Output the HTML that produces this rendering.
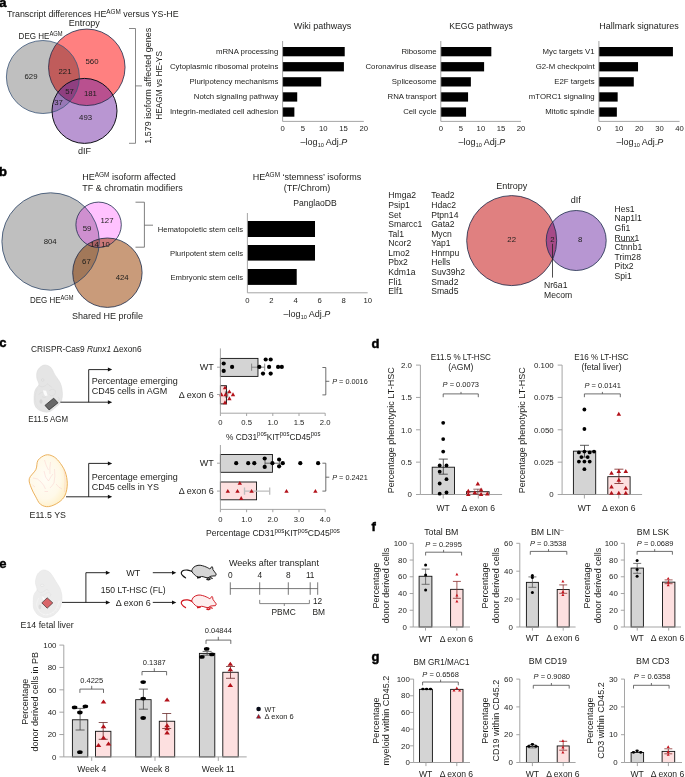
<!DOCTYPE html>
<html><head><meta charset="utf-8"><title>Figure</title>
<style>
html,body{margin:0;padding:0;background:#fff;}
svg{display:block;font-family:"Liberation Sans",sans-serif;fill:#1d1d1b;will-change:transform;}
</style></head><body>
<svg width="685" height="777" viewBox="0 0 685 777">
<rect width="685" height="777" fill="#fff"/>
<text x="-0.70" y="6.70" font-size="13" font-weight="bold" fill="#000" stroke="#000" stroke-width="0.45">a</text>
<text x="7.00" y="17.00" font-size="8.85">Transcript differences HE<tspan dy="-3.01" font-size="6.37">AGM</tspan><tspan dy="3.01" font-size="8.85">&#8203;</tspan> versus YS-HE</text>
<text x="84.20" y="26.20" font-size="9" text-anchor="middle">Entropy</text>
<text x="18.60" y="38.70" font-size="9" textLength="44" lengthAdjust="spacingAndGlyphs">DEG HE<tspan dy="-3.06" font-size="6.48">AGM</tspan><tspan dy="3.06" font-size="9">&#8203;</tspan></text>
<text x="84.40" y="154.40" font-size="9" text-anchor="middle">dIF</text>
<defs><clipPath id="aG"><circle cx="42.9" cy="77" r="36.5"/></clipPath><clipPath id="aR"><circle cx="86.8" cy="67.3" r="38.25"/></clipPath><clipPath id="aP"><circle cx="84.5" cy="110.9" r="32.5"/></clipPath></defs>
<circle cx="42.90" cy="77.00" r="36.50" fill="#bfbfbf"/>
<circle cx="86.80" cy="67.30" r="38.25" fill="#ff8080"/>
<circle cx="84.50" cy="110.90" r="32.50" fill="#b996d2"/>
<g clip-path="url(#aG)"><circle cx="86.8" cy="67.3" r="38.25" fill="#c05c5b"/></g>
<g clip-path="url(#aG)"><circle cx="84.5" cy="110.9" r="32.5" fill="#9878b6"/></g>
<g clip-path="url(#aR)"><circle cx="84.5" cy="110.9" r="32.5" fill="#b9508f"/></g>
<g clip-path="url(#aG)"><g clip-path="url(#aR)"><circle cx="84.5" cy="110.9" r="32.5" fill="#8f3f80"/></g></g>
<circle cx="42.90" cy="77.00" r="36.50" fill="none" stroke="#3b5578" stroke-width="0.8"/>
<circle cx="86.80" cy="67.30" r="38.25" fill="none" stroke="#1c2b4a" stroke-width="0.8"/>
<circle cx="84.50" cy="110.90" r="32.50" fill="none" stroke="#101018" stroke-width="1.0"/>
<text x="31.00" y="78.80" font-size="7.8" text-anchor="middle">629</text>
<text x="65.00" y="73.80" font-size="7.8" text-anchor="middle">221</text>
<text x="92.00" y="63.80" font-size="7.8" text-anchor="middle">560</text>
<text x="69.60" y="94.40" font-size="7.8" text-anchor="middle">57</text>
<text x="90.40" y="96.20" font-size="7.8" text-anchor="middle">181</text>
<text x="58.60" y="105.40" font-size="7.8" text-anchor="middle">37</text>
<text x="85.60" y="120.20" font-size="7.8" text-anchor="middle">493</text>
<path d="M129,28.5 H135.5 V143.3 H129 M135.5,85.9 H142" stroke="#6a6a6a" stroke-width="0.8" fill="none"/>
<text x="151.10" y="85.70" font-size="9" text-anchor="middle" transform="rotate(-90 151.10 85.70)">1,579 isoform affected genes</text>
<text x="161.60" y="85.40" font-size="8.3" text-anchor="middle" transform="rotate(-90 161.60 85.40)">HEAGM vs HE-YS</text>
<text x="322.50" y="29.00" font-size="9" text-anchor="middle">Wiki pathways</text>
<rect x="282.60" y="47.00" width="62.12" height="9.30" fill="#000"/>
<text x="278.30" y="53.95" font-size="7.8" text-anchor="end">mRNA processing</text>
<rect x="282.60" y="62.10" width="61.31" height="9.30" fill="#000"/>
<text x="278.30" y="69.05" font-size="7.8" text-anchor="end">Cytoplasmic ribosomal proteins</text>
<rect x="282.60" y="77.20" width="38.57" height="9.30" fill="#000"/>
<text x="278.30" y="84.15" font-size="7.8" text-anchor="end">Pluripotency mechanisms</text>
<rect x="282.60" y="92.30" width="14.62" height="9.30" fill="#000"/>
<text x="278.30" y="99.25" font-size="7.8" text-anchor="end">Notch signaling pathway</text>
<rect x="282.60" y="107.40" width="11.77" height="9.30" fill="#000"/>
<text x="278.30" y="114.35" font-size="7.8" text-anchor="end">Integrin-mediated cell adhesion</text>
<text x="282.60" y="131.40" font-size="7.7" text-anchor="middle">0</text>
<text x="302.90" y="131.40" font-size="7.7" text-anchor="middle">5</text>
<text x="323.20" y="131.40" font-size="7.7" text-anchor="middle">10</text>
<text x="343.50" y="131.40" font-size="7.7" text-anchor="middle">15</text>
<text x="363.80" y="131.40" font-size="7.7" text-anchor="middle">20</text>
<path d="M282.60,41 V121.4 H363.80" stroke="#9b9b9b" stroke-width="0.9" fill="none"/>
<text x="324.00" y="145.00" font-size="9" text-anchor="middle">–log<tspan dy="1.98" font-size="5.58">10</tspan><tspan dy="-1.98" font-size="9">&#8203;</tspan> Adj.<tspan font-style="italic">P</tspan></text>
<text x="481.00" y="29.00" font-size="8.6" text-anchor="middle">KEGG pathways</text>
<rect x="440.80" y="47.00" width="50.53" height="9.30" fill="#000"/>
<text x="436.50" y="53.95" font-size="7.8" text-anchor="end">Ribosome</text>
<rect x="440.80" y="62.10" width="43.31" height="9.30" fill="#000"/>
<text x="436.50" y="69.05" font-size="7.8" text-anchor="end">Coronavirus disease</text>
<rect x="440.80" y="77.20" width="30.07" height="9.30" fill="#000"/>
<text x="436.50" y="84.15" font-size="7.8" text-anchor="end">Spliceosome</text>
<rect x="440.80" y="92.30" width="27.27" height="9.30" fill="#000"/>
<text x="436.50" y="99.25" font-size="7.8" text-anchor="end">RNA transport</text>
<rect x="440.80" y="107.40" width="25.26" height="9.30" fill="#000"/>
<text x="436.50" y="114.35" font-size="7.8" text-anchor="end">Cell cycle</text>
<text x="440.80" y="131.40" font-size="7.7" text-anchor="middle">0</text>
<text x="460.85" y="131.40" font-size="7.7" text-anchor="middle">5</text>
<text x="480.90" y="131.40" font-size="7.7" text-anchor="middle">10</text>
<text x="500.95" y="131.40" font-size="7.7" text-anchor="middle">15</text>
<text x="521.00" y="131.40" font-size="7.7" text-anchor="middle">20</text>
<path d="M440.80,41 V121.4 H521.00" stroke="#9b9b9b" stroke-width="0.9" fill="none"/>
<text x="482.00" y="145.00" font-size="9" text-anchor="middle">–log<tspan dy="1.98" font-size="5.58">10</tspan><tspan dy="-1.98" font-size="9">&#8203;</tspan> Adj.<tspan font-style="italic">P</tspan></text>
<text x="639.00" y="29.00" font-size="9" text-anchor="middle">Hallmark signatures</text>
<rect x="598.90" y="47.00" width="74.02" height="9.30" fill="#000"/>
<text x="594.60" y="53.95" font-size="7.8" text-anchor="end">Myc targets V1</text>
<rect x="598.90" y="62.10" width="39.13" height="9.30" fill="#000"/>
<text x="594.60" y="69.05" font-size="7.8" text-anchor="end">G2-M checkpoint</text>
<rect x="598.90" y="77.20" width="34.89" height="9.30" fill="#000"/>
<text x="594.60" y="84.15" font-size="7.8" text-anchor="end">E2F targets</text>
<rect x="598.90" y="92.30" width="18.76" height="9.30" fill="#000"/>
<text x="594.60" y="99.25" font-size="7.8" text-anchor="end">mTORC1 signaling</text>
<rect x="598.90" y="107.40" width="17.95" height="9.30" fill="#000"/>
<text x="594.60" y="114.35" font-size="7.8" text-anchor="end">Mitotic spindle</text>
<text x="598.90" y="131.40" font-size="7.7" text-anchor="middle">0</text>
<text x="619.07" y="131.40" font-size="7.7" text-anchor="middle">10</text>
<text x="639.24" y="131.40" font-size="7.7" text-anchor="middle">20</text>
<text x="659.41" y="131.40" font-size="7.7" text-anchor="middle">30</text>
<text x="679.58" y="131.40" font-size="7.7" text-anchor="middle">40</text>
<path d="M598.90,41 V121.4 H679.58" stroke="#9b9b9b" stroke-width="0.9" fill="none"/>
<text x="640.00" y="145.00" font-size="9" text-anchor="middle">–log<tspan dy="1.98" font-size="5.58">10</tspan><tspan dy="-1.98" font-size="9">&#8203;</tspan> Adj.<tspan font-style="italic">P</tspan></text>
<text x="-0.90" y="175.80" font-size="13" font-weight="bold" fill="#000" stroke="#000" stroke-width="0.45">b</text>
<text x="82.20" y="180.00" font-size="9">HE<tspan dy="-3.06" font-size="6.48">AGM</tspan><tspan dy="3.06" font-size="9">&#8203;</tspan> isoform affected</text>
<text x="82.20" y="191.00" font-size="9">TF &amp; chromatin modifiers</text>
<defs><clipPath id="bG"><circle cx="50.6" cy="241.5" r="48.7"/></clipPath><clipPath id="bK"><circle cx="98.6" cy="224.8" r="22.7"/></clipPath><clipPath id="bB"><circle cx="107.4" cy="272.7" r="34.7"/></clipPath></defs>
<circle cx="50.60" cy="241.50" r="48.70" fill="#bfbfbf"/>
<circle cx="98.60" cy="224.80" r="22.70" fill="#ffc2ff"/>
<circle cx="107.40" cy="272.70" r="34.70" fill="#c99b7a"/>
<g clip-path="url(#bG)"><circle cx="98.6" cy="224.8" r="22.7" fill="#ce8fcf"/></g>
<g clip-path="url(#bG)"><circle cx="107.4" cy="272.7" r="34.7" fill="#a27859"/></g>
<g clip-path="url(#bK)"><circle cx="107.4" cy="272.7" r="34.7" fill="#c87878"/></g>
<g clip-path="url(#bG)"><g clip-path="url(#bK)"><circle cx="107.4" cy="272.7" r="34.7" fill="#a96065"/></g></g>
<circle cx="50.60" cy="241.50" r="48.70" fill="none" stroke="#2f4668" stroke-width="0.8"/>
<circle cx="98.60" cy="224.80" r="22.70" fill="none" stroke="#1c2b4a" stroke-width="0.8"/>
<circle cx="107.40" cy="272.70" r="34.70" fill="none" stroke="#1c2b4a" stroke-width="0.8"/>
<text x="50.20" y="243.80" font-size="7.8" text-anchor="middle">804</text>
<text x="87.10" y="231.40" font-size="7.8" text-anchor="middle">59</text>
<text x="107.00" y="223.20" font-size="7.8" text-anchor="middle">127</text>
<text x="94.60" y="247.20" font-size="7.8" text-anchor="middle">14</text>
<text x="105.60" y="247.20" font-size="7.8" text-anchor="middle">10</text>
<text x="86.40" y="264.30" font-size="7.8" text-anchor="middle">67</text>
<text x="122.20" y="279.50" font-size="7.8" text-anchor="middle">424</text>
<text x="30.00" y="303.00" font-size="9" textLength="43.6" lengthAdjust="spacingAndGlyphs">DEG HE<tspan dy="-3.06" font-size="6.48">AGM</tspan><tspan dy="3.06" font-size="9">&#8203;</tspan></text>
<text x="72.00" y="319.00" font-size="9">Shared HE profile</text>
<path d="M135.5,202.2 H144.4 V247.2 H135.5 M144.4,225.2 H153" stroke="#5f5f5f" stroke-width="0.8" fill="none"/>
<text x="307.00" y="180.00" font-size="9" text-anchor="middle">HE<tspan dy="-3.06" font-size="6.48">AGM</tspan><tspan dy="3.06" font-size="9">&#8203;</tspan> ‘stemness’ isoforms</text>
<text x="307.00" y="190.80" font-size="9" text-anchor="middle">(TF/Chrom)</text>
<text x="315.00" y="205.80" font-size="8.6" text-anchor="middle">PanglaoDB</text>
<rect x="247.40" y="221.00" width="67.61" height="16.00" fill="#000"/>
<text x="243.10" y="231.70" font-size="7.7" text-anchor="end">Hematopoietic stem cells</text>
<rect x="247.40" y="245.00" width="67.61" height="15.60" fill="#000"/>
<text x="243.10" y="255.50" font-size="7.7" text-anchor="end">Pluripotent stem cells</text>
<rect x="247.40" y="269.00" width="49.32" height="15.90" fill="#000"/>
<text x="243.10" y="279.65" font-size="7.7" text-anchor="end">Embryonic stem cells</text>
<text x="247.40" y="302.80" font-size="7.7" text-anchor="middle">0</text>
<text x="271.46" y="302.80" font-size="7.7" text-anchor="middle">2</text>
<text x="295.52" y="302.80" font-size="7.7" text-anchor="middle">4</text>
<text x="319.58" y="302.80" font-size="7.7" text-anchor="middle">6</text>
<text x="343.64" y="302.80" font-size="7.7" text-anchor="middle">8</text>
<text x="367.70" y="302.80" font-size="7.7" text-anchor="middle">10</text>
<path d="M247.4,213 V292.8 H367.70" stroke="#9b9b9b" stroke-width="0.9" fill="none"/>
<text x="307.00" y="316.60" font-size="9" text-anchor="middle">–log<tspan dy="1.98" font-size="5.58">10</tspan><tspan dy="-1.98" font-size="9">&#8203;</tspan> Adj.<tspan font-style="italic">P</tspan></text>
<text x="388.30" y="198.40" font-size="8.6">Hmga2</text>
<text x="431.20" y="198.40" font-size="8.6">Tead2</text>
<text x="388.30" y="207.98" font-size="8.6">Psip1</text>
<text x="431.20" y="207.98" font-size="8.6">Hdac2</text>
<text x="388.30" y="217.56" font-size="8.6">Set</text>
<text x="431.20" y="217.56" font-size="8.6">Ptpn14</text>
<text x="388.30" y="227.14" font-size="8.6">Smarcc1</text>
<text x="431.20" y="227.14" font-size="8.6">Gata2</text>
<text x="388.30" y="236.72" font-size="8.6">Tal1</text>
<text x="431.20" y="236.72" font-size="8.6">Mycn</text>
<text x="388.30" y="246.30" font-size="8.6">Ncor2</text>
<text x="431.20" y="246.30" font-size="8.6">Yap1</text>
<text x="388.30" y="255.88" font-size="8.6">Lmo2</text>
<text x="431.20" y="255.88" font-size="8.6">Hnrnpu</text>
<text x="388.30" y="265.46" font-size="8.6">Pbx2</text>
<text x="431.20" y="265.46" font-size="8.6">Hells</text>
<text x="388.30" y="275.04" font-size="8.6">Kdm1a</text>
<text x="431.20" y="275.04" font-size="8.6">Suv39h2</text>
<text x="388.30" y="284.62" font-size="8.6">Fli1</text>
<text x="431.20" y="284.62" font-size="8.6">Smad2</text>
<text x="388.30" y="294.20" font-size="8.6">Elf1</text>
<text x="431.20" y="294.20" font-size="8.6">Smad5</text>
<text x="614.50" y="211.90" font-size="8.6">Hes1</text>
<text x="614.50" y="221.46" font-size="8.6">Nap1l1</text>
<text x="614.50" y="231.02" font-size="8.6">Gfi1</text>
<text x="614.50" y="240.58" font-size="8.6">Runx1</text>
<text x="614.50" y="250.14" font-size="8.6">Ctnnb1</text>
<text x="614.50" y="259.70" font-size="8.6">Trim28</text>
<text x="614.50" y="269.26" font-size="8.6">Pitx2</text>
<text x="614.50" y="278.82" font-size="8.6">Spi1</text>
<defs><clipPath id="cE"><circle cx="511.7" cy="240.6" r="45"/></clipPath></defs>
<circle cx="511.70" cy="240.60" r="45.00" fill="#e08080"/>
<circle cx="576.20" cy="240.50" r="30.00" fill="#b796d2"/>
<g clip-path="url(#cE)"><circle cx="576.2" cy="240.5" r="30" fill="#a64a88"/></g>
<circle cx="511.70" cy="240.60" r="45.00" fill="none" stroke="#1c2b4a" stroke-width="0.8"/>
<circle cx="576.20" cy="240.50" r="30.00" fill="none" stroke="#1c2b4a" stroke-width="0.8"/>
<text x="511.70" y="188.80" font-size="9" text-anchor="middle">Entropy</text>
<text x="575.70" y="203.00" font-size="9" text-anchor="middle">dIf</text>
<text x="511.70" y="241.90" font-size="7.8" text-anchor="middle">22</text>
<text x="552.50" y="241.90" font-size="7.8" text-anchor="middle">2</text>
<text x="580.20" y="241.90" font-size="7.8" text-anchor="middle">8</text>
<line x1="552.50" y1="243.80" x2="552.50" y2="277.60" stroke="#222" stroke-width="0.8"/>
<line x1="615.00" y1="241.50" x2="635.60" y2="241.50" stroke="#222" stroke-width="0.6"/>
<text x="544.00" y="288.00" font-size="8.6">Nr6a1</text>
<text x="544.00" y="298.00" font-size="8.6">Mecom</text>
<text x="-0.70" y="347.30" font-size="13" font-weight="bold" fill="#000" stroke="#000" stroke-width="0.45">c</text>
<text x="31.00" y="352.00" font-size="9" textLength="110.6" lengthAdjust="spacingAndGlyphs">CRISPR-Cas9 <tspan font-style="italic">Runx1</tspan> Δexon6</text>
<path d="M44.50,365.00 C42.63,365.08 40.77,366.57 39.50,367.80 C38.23,369.03 37.33,370.62 36.90,372.40 C36.47,374.18 36.57,376.47 36.90,378.50 C37.23,380.53 39.05,382.93 38.90,384.60 C38.75,386.27 36.77,386.97 36.00,388.50 C35.23,390.03 34.58,391.38 34.30,393.80 C34.02,396.22 33.93,400.63 34.30,403.00 C34.67,405.37 35.48,406.72 36.50,408.00 C37.52,409.28 38.72,410.00 40.40,410.70 C42.08,411.40 44.83,412.15 46.60,412.20 C48.37,412.25 49.65,411.68 51.00,411.00 C52.35,410.32 53.05,409.60 54.70,408.10 C56.35,406.60 59.62,404.38 60.90,402.00 C62.18,399.62 62.40,396.70 62.40,393.80 C62.40,390.90 61.72,387.15 60.90,384.60 C60.08,382.05 58.53,380.20 57.50,378.50 C56.47,376.80 55.83,376.27 54.70,374.40 C53.57,372.53 52.40,368.87 50.70,367.30 C49.00,365.73 46.37,364.92 44.50,365.00 Z" stroke="#d9d9d9" stroke-width="0.5" fill="#e5e5e5"/>
<path d="M43,390.3 L46.1,390.8 L47.6,395.4 L45,395.9 L43.7,393.3 Z" stroke="none" stroke-width="0" fill="#fcfcfc"/>
<circle cx="42.70" cy="380.00" r="1.25" fill="#e9e9e9" stroke="#d0d0d0" stroke-width="0.45"/>
<path d="M38.70,385.45 C39.25,385.69 40.83,386.85 41.97,386.88 C43.11,386.92 44.64,386.12 45.55,385.66 C46.45,385.20 46.70,384.12 47.39,384.12 C48.07,384.12 48.83,385.09 49.63,385.66 C50.43,386.22 51.76,387.19 52.19,387.50" stroke="#d4d4d4" stroke-width="0.4" fill="none"/>
<path d="M49.12,390.77 C49.72,390.51 51.68,389.23 52.70,389.23 C53.72,389.23 54.91,389.91 55.25,390.77 C55.60,391.62 55.42,393.49 54.74,394.34 C54.06,395.19 52.10,395.87 51.17,395.87 C50.23,395.87 49.46,394.60 49.12,394.34" stroke="#d4d4d4" stroke-width="0.4" fill="none"/>
<path d="M38.90,394.85 C39.16,394.51 39.76,393.23 40.44,392.81 C41.12,392.38 42.57,392.38 42.99,392.30" stroke="#d4d4d4" stroke-width="0.4" fill="none"/>
<path d="M41.97,396.39 C42.31,396.56 43.33,397.36 44.01,397.41 C44.70,397.46 45.72,396.81 46.06,396.69" stroke="#d4d4d4" stroke-width="0.4" fill="none"/>
<path d="M57.81,396.90 C58.06,397.24 59.26,398.26 59.34,398.94 C59.43,399.62 58.49,400.64 58.32,400.98" stroke="#d4d4d4" stroke-width="0.4" fill="none"/>
<path d="M37.37,388.72 C37.03,389.91 35.50,393.32 35.33,395.87 C35.16,398.43 35.24,401.67 36.35,404.05 C37.46,406.43 39.76,409.07 41.97,410.18 C44.18,411.29 48.36,410.61 49.63,410.69" stroke="#dcdcdc" stroke-width="0.4" fill="none"/>
<ellipse cx="41.00" cy="401.50" rx="1.50" ry="2.30" fill="#d4d4d4"/>
<path d="M45,405.4 L53.7,398.2 L58,402.8 L49.1,409.9 Z" stroke="#2e2e2e" stroke-width="0.8" fill="#686868"/>
<text x="28.20" y="422.40" font-size="8.8" textLength="39.8" lengthAdjust="spacingAndGlyphs">E11.5 AGM</text>
<path d="M60.4,402.2 H108 M88.7,402.2 V369.6 H108" stroke="#111" stroke-width="0.9" fill="none"/>
<path d="M112.20,402.20 L107.90,400.18 L107.90,404.22 Z" fill="#111"/>
<path d="M112.20,369.60 L107.90,367.58 L107.90,371.62 Z" fill="#111"/>
<text x="91.70" y="384.20" font-size="9">Percentage emerging</text>
<text x="91.70" y="394.20" font-size="9">CD45 cells in AGM</text>
<defs><radialGradient id="ysg" cx="0.42" cy="0.45" r="0.62"><stop offset="0" stop-color="#fffdf6"/><stop offset="0.65" stop-color="#fff9e9"/><stop offset="1" stop-color="#ffefc4"/></radialGradient></defs>
<path d="M45.70,455.00 C43.23,455.68 39.63,457.88 38.00,460.30 C36.37,462.72 37.35,466.43 35.90,469.50 C34.45,472.57 30.07,475.63 29.30,478.70 C28.53,481.77 30.28,485.00 31.30,487.90 C32.32,490.80 33.87,493.37 35.40,496.10 C36.93,498.83 38.28,502.55 40.50,504.30 C42.72,506.05 45.63,506.95 48.70,506.60 C51.77,506.25 56.17,504.12 58.90,502.20 C61.63,500.28 63.70,498.17 65.10,495.10 C66.50,492.03 67.30,487.72 67.30,483.80 C67.30,479.88 66.50,475.33 65.10,471.60 C63.70,467.87 60.95,463.97 58.90,461.40 C56.85,458.83 55.00,457.27 52.80,456.20 C50.60,455.13 48.17,454.32 45.70,455.00 Z" stroke="#e9a94e" stroke-width="0.9" fill="url(#ysg)"/>
<path d="M44.5,460 Q46,466 48.5,470 M50.5,462 Q49.5,468 50,474 M44,471 Q45,478 48.5,481 Q51,476 53,474 M54.5,469 Q55.5,476 54,483 Q52,486 50,488 M33,478 Q38,478 41,482 Q44,485 45.5,489 M32.5,485 L35,487 M56,484 Q59,488 62,489 M44.5,491.5 L48,491.5 M64,470 Q66,480 64.5,492" stroke="#f8c4c4" stroke-width="0.4" fill="none"/>
<text x="47.70" y="517.90" font-size="8.8" text-anchor="middle">E11.5 YS</text>
<path d="M66,496.8 H108 M88.7,496.8 V463.4 H108" stroke="#111" stroke-width="0.9" fill="none"/>
<path d="M112.20,496.80 L107.90,494.78 L107.90,498.82 Z" fill="#111"/>
<path d="M112.20,463.40 L107.90,461.38 L107.90,465.42 Z" fill="#111"/>
<text x="91.70" y="479.70" font-size="9">Percentage emerging</text>
<text x="91.70" y="489.70" font-size="9">CD45 cells in YS</text>
<rect x="220.40" y="358.40" width="37.57" height="18.00" fill="#d4d4d4" stroke="#111" stroke-width="0.9"/>
<rect x="220.40" y="385.70" width="6.03" height="18.20" fill="#fde0e0" stroke="#111" stroke-width="0.9"/>
<path d="M251.60,367.20 H264.70 M251.60,363.60 V370.80 M264.70,363.60 V370.80" stroke="#7f7f7f" stroke-width="0.9" fill="none"/>
<path d="M225.40,394.50 H227.80 M225.40,391.30 V397.70 M227.80,391.30 V397.70" stroke="#7f7f7f" stroke-width="0.9" fill="none"/>
<circle cx="223.70" cy="363.50" r="2.10" fill="#000"/>
<circle cx="223.70" cy="370.90" r="2.10" fill="#000"/>
<circle cx="232.10" cy="366.90" r="2.10" fill="#000"/>
<circle cx="259.30" cy="366.90" r="2.10" fill="#000"/>
<circle cx="265.70" cy="359.50" r="2.10" fill="#000"/>
<circle cx="270.70" cy="359.50" r="2.10" fill="#000"/>
<circle cx="269.10" cy="366.90" r="2.10" fill="#000"/>
<circle cx="263.00" cy="373.60" r="2.10" fill="#000"/>
<circle cx="270.70" cy="373.60" r="2.10" fill="#000"/>
<circle cx="278.10" cy="366.90" r="2.10" fill="#000"/>
<circle cx="281.80" cy="366.90" r="2.10" fill="#000"/>
<path d="M222.80,389.33 L227.20,389.33 L225.00,385.48 Z" fill="#b3121a"/>
<path d="M219.20,396.13 L223.60,396.13 L221.40,392.28 Z" fill="#b3121a"/>
<path d="M223.40,396.13 L227.80,396.13 L225.60,392.28 Z" fill="#b3121a"/>
<path d="M227.20,393.33 L231.60,393.33 L229.40,389.48 Z" fill="#b3121a"/>
<path d="M227.20,400.13 L231.60,400.13 L229.40,396.28 Z" fill="#b3121a"/>
<path d="M230.80,396.13 L235.20,396.13 L233.00,392.28 Z" fill="#b3121a"/>
<path d="M222.80,404.13 L227.20,404.13 L225.00,400.28 Z" fill="#b3121a"/>
<text x="220.40" y="425.10" font-size="7.7" text-anchor="middle">0</text>
<text x="246.60" y="425.10" font-size="7.7" text-anchor="middle">0.5</text>
<text x="272.80" y="425.10" font-size="7.7" text-anchor="middle">1.0</text>
<text x="299.00" y="425.10" font-size="7.7" text-anchor="middle">1.5</text>
<text x="325.20" y="425.10" font-size="7.7" text-anchor="middle">2.0</text>
<path d="M220.4,348.4 V413.2 H325.20 M220.4,367.2 h-3.4 M220.4,394.5 h-3.4 M220.40,413.2 v2.8 M246.60,413.2 v2.8 M272.80,413.2 v2.8 M299.00,413.2 v2.8 M325.20,413.2 v2.8" stroke="#9b9b9b" stroke-width="0.9" fill="none"/>
<text x="213.70" y="370.00" font-size="9" text-anchor="end">WT</text>
<text x="213.70" y="397.50" font-size="9" text-anchor="end">Δ exon 6</text>
<text x="226.00" y="439.50" font-size="9" textLength="94.4" lengthAdjust="spacingAndGlyphs">% CD31<tspan dy="-3.06" font-size="6.48">pos</tspan><tspan dy="3.06" font-size="9">&#8203;</tspan>KIT<tspan dy="-3.06" font-size="6.48">pos</tspan><tspan dy="3.06" font-size="9">&#8203;</tspan>CD45<tspan dy="-3.06" font-size="6.48">pos</tspan><tspan dy="3.06" font-size="9">&#8203;</tspan></text>
<path d="M322.4,367.5 H325.8 V394.9 H322.4 M325.8,381.3 H329.3" stroke="#4a4a4a" stroke-width="0.8" fill="none"/>
<text x="332.20" y="384.00" font-size="7.3"><tspan font-style="italic">P</tspan> = 0.0016</text>
<rect x="220.40" y="454.50" width="52.01" height="17.80" fill="#d4d4d4" stroke="#111" stroke-width="0.9"/>
<rect x="220.40" y="482.00" width="36.16" height="17.80" fill="#fde0e0" stroke="#111" stroke-width="0.9"/>
<path d="M265.00,463.20 H279.80 M265.00,459.60 V466.80 M279.80,459.60 V466.80" stroke="#555" stroke-width="0.9" fill="none"/>
<path d="M244.50,491.10 H269.70 M244.50,487.50 V494.70 M269.70,487.50 V494.70" stroke="#bdbdbd" stroke-width="1.3" fill="none"/>
<circle cx="236.20" cy="463.20" r="2.10" fill="#000"/>
<circle cx="248.20" cy="463.20" r="2.10" fill="#000"/>
<circle cx="254.30" cy="463.20" r="2.10" fill="#000"/>
<circle cx="264.70" cy="458.50" r="2.10" fill="#000"/>
<circle cx="264.70" cy="466.90" r="2.10" fill="#000"/>
<circle cx="272.40" cy="463.20" r="2.10" fill="#000"/>
<circle cx="279.10" cy="459.50" r="2.10" fill="#000"/>
<circle cx="279.10" cy="466.30" r="2.10" fill="#000"/>
<circle cx="282.80" cy="463.20" r="2.10" fill="#000"/>
<circle cx="300.30" cy="463.20" r="2.10" fill="#000"/>
<circle cx="318.10" cy="463.20" r="2.10" fill="#000"/>
<path d="M225.60,492.83 L230.00,492.83 L227.80,488.98 Z" fill="#b3121a"/>
<path d="M235.30,492.83 L239.70,492.83 L237.50,488.98 Z" fill="#b3121a"/>
<path d="M237.60,484.83 L242.00,484.83 L239.80,480.98 Z" fill="#b3121a"/>
<path d="M239.00,499.93 L243.40,499.93 L241.20,496.08 Z" fill="#b3121a"/>
<path d="M249.40,492.83 L253.80,492.83 L251.60,488.98 Z" fill="#b3121a"/>
<path d="M284.30,492.83 L288.70,492.83 L286.50,488.98 Z" fill="#b3121a"/>
<path d="M313.20,492.83 L317.60,492.83 L315.40,488.98 Z" fill="#b3121a"/>
<text x="220.40" y="521.80" font-size="7.7" text-anchor="middle">0</text>
<text x="246.60" y="521.80" font-size="7.7" text-anchor="middle">1.0</text>
<text x="272.80" y="521.80" font-size="7.7" text-anchor="middle">2.0</text>
<text x="299.00" y="521.80" font-size="7.7" text-anchor="middle">3.0</text>
<text x="325.20" y="521.80" font-size="7.7" text-anchor="middle">4.0</text>
<path d="M220.4,445 V509.4 H325.20 M220.4,463.2 h-3.4 M220.4,491.1 h-3.4 M220.40,509.4 v2.8 M246.60,509.4 v2.8 M272.80,509.4 v2.8 M299.00,509.4 v2.8 M325.20,509.4 v2.8" stroke="#9b9b9b" stroke-width="0.9" fill="none"/>
<text x="213.70" y="466.30" font-size="9" text-anchor="end">WT</text>
<text x="213.70" y="494.20" font-size="9" text-anchor="end">Δ exon 6</text>
<text x="205.90" y="535.60" font-size="9" textLength="134" lengthAdjust="spacingAndGlyphs">Percentage CD31<tspan dy="-3.06" font-size="6.48">pos</tspan><tspan dy="3.06" font-size="9">&#8203;</tspan>KIT<tspan dy="-3.06" font-size="6.48">pos</tspan><tspan dy="3.06" font-size="9">&#8203;</tspan>CD45<tspan dy="-3.06" font-size="6.48">pos</tspan><tspan dy="3.06" font-size="9">&#8203;</tspan></text>
<path d="M322.4,463.2 H325.8 V491.1 H322.4 M325.8,477.2 H329.3" stroke="#4a4a4a" stroke-width="0.8" fill="none"/>
<text x="332.20" y="479.80" font-size="7.3"><tspan font-style="italic">P</tspan> = 0.2421</text>
<text x="371.40" y="347.70" font-size="13" font-weight="bold" fill="#000" stroke="#000" stroke-width="0.45">d</text>
<text x="460.80" y="359.80" font-size="8.6" text-anchor="middle" textLength="60.2" lengthAdjust="spacingAndGlyphs">E11.5 % LT-HSC</text>
<text x="460.80" y="370.10" font-size="8.6" text-anchor="middle">(AGM)</text>
<rect x="432.20" y="467.20" width="22.30" height="27.30" fill="#d4d4d4" stroke="#111" stroke-width="0.9"/>
<rect x="466.50" y="491.72" width="22.60" height="2.78" fill="#fde0e0" stroke="#111" stroke-width="0.9"/>
<text x="412.00" y="367.80" font-size="7.9" text-anchor="end">2.0</text>
<text x="412.00" y="400.15" font-size="7.9" text-anchor="end">1.5</text>
<text x="412.00" y="432.50" font-size="7.9" text-anchor="end">1.0</text>
<text x="412.00" y="464.85" font-size="7.9" text-anchor="end">0.5</text>
<text x="412.00" y="497.20" font-size="7.9" text-anchor="end">0</text>
<path d="M420.40,365.10 V494.50 H502.10 M420.40,365.10 h-4.4 M420.40,397.45 h-4.4 M420.40,429.80 h-4.4 M420.40,462.15 h-4.4 M420.40,494.50 h-4.4 M443.20,494.50 v4.0 M478.30,494.50 v4.0" stroke="#9b9b9b" stroke-width="0.9" fill="none"/>
<path d="M443.30,459.10 V474.20 M438.80,459.10 H447.80 M438.80,474.20 H447.80" stroke="#333" stroke-width="0.8" fill="none"/>
<path d="M477.80,489.20 V494.30 M473.30,489.20 H482.30 M473.30,494.30 H482.30" stroke="#7a4a4a" stroke-width="0.8" fill="none"/>
<circle cx="443.20" cy="422.80" r="1.90" fill="#000"/>
<circle cx="443.20" cy="439.10" r="1.90" fill="#000"/>
<circle cx="443.20" cy="451.60" r="1.90" fill="#000"/>
<circle cx="439.70" cy="465.40" r="1.90" fill="#000"/>
<circle cx="446.50" cy="465.40" r="1.90" fill="#000"/>
<circle cx="439.70" cy="471.70" r="1.90" fill="#000"/>
<circle cx="446.50" cy="479.20" r="1.90" fill="#000"/>
<circle cx="439.70" cy="483.50" r="1.90" fill="#000"/>
<circle cx="439.70" cy="493.70" r="1.90" fill="#000"/>
<circle cx="446.50" cy="492.50" r="1.90" fill="#000"/>
<path d="M475.50,485.51 L480.10,485.51 L477.80,481.49 Z" fill="#b3121a"/>
<path d="M466.00,492.81 L470.60,492.81 L468.30,488.79 Z" fill="#b3121a"/>
<path d="M472.50,494.31 L477.10,494.31 L474.80,490.29 Z" fill="#b3121a"/>
<path d="M478.80,491.51 L483.40,491.51 L481.10,487.49 Z" fill="#b3121a"/>
<path d="M466.00,496.01 L470.60,496.01 L468.30,491.99 Z" fill="#b3121a"/>
<path d="M478.80,496.01 L483.40,496.01 L481.10,491.99 Z" fill="#b3121a"/>
<path d="M485.00,495.51 L489.60,495.51 L487.30,491.49 Z" fill="#b3121a"/>
<path d="M443.20,397.20 V393.90 H478.30 V397.20 M461.00,393.90 v-2" stroke="#4a4a4a" stroke-width="0.8" fill="none"/>
<text x="460.80" y="387.00" font-size="7.5" text-anchor="middle"><tspan font-style="italic">P</tspan> = 0.0073</text>
<text x="443.20" y="510.50" font-size="8.6" text-anchor="middle">WT</text>
<text x="478.30" y="510.50" font-size="8.6" text-anchor="middle">Δ exon 6</text>
<text x="394.30" y="430.30" font-size="9" text-anchor="middle" transform="rotate(-90 394.30 430.30)">Percentage phenotypic LT-HSC</text>
<text x="601.50" y="359.80" font-size="8.6" text-anchor="middle" textLength="54.4" lengthAdjust="spacingAndGlyphs">E16 % LT-HSC</text>
<text x="601.50" y="370.10" font-size="8.6" text-anchor="middle">(fetal liver)</text>
<rect x="573.40" y="451.15" width="22.30" height="43.35" fill="#d4d4d4" stroke="#111" stroke-width="0.9"/>
<rect x="607.80" y="476.69" width="22.30" height="17.81" fill="#fde0e0" stroke="#111" stroke-width="0.9"/>
<text x="553.70" y="367.80" font-size="7.9" text-anchor="end">0.100</text>
<text x="553.70" y="400.15" font-size="7.9" text-anchor="end">0.075</text>
<text x="553.70" y="432.50" font-size="7.9" text-anchor="end">0.050</text>
<text x="553.70" y="464.85" font-size="7.9" text-anchor="end">0.025</text>
<text x="553.70" y="497.20" font-size="7.9" text-anchor="end">0</text>
<path d="M562.10,365.10 V494.50 H642.10 M562.10,365.10 h-4.4 M562.10,397.45 h-4.4 M562.10,429.80 h-4.4 M562.10,462.15 h-4.4 M562.10,494.50 h-4.4 M584.40,494.50 v4.0 M618.80,494.50 v4.0" stroke="#9b9b9b" stroke-width="0.9" fill="none"/>
<path d="M584.50,445.30 V457.10 M580.00,445.30 H589.00 M580.00,457.10 H589.00" stroke="#333" stroke-width="0.8" fill="none"/>
<path d="M618.90,469.20 V483.50 M614.40,469.20 H623.40 M614.40,483.50 H623.40" stroke="#7a2020" stroke-width="0.8" fill="none"/>
<circle cx="584.40" cy="409.50" r="1.90" fill="#000"/>
<circle cx="584.40" cy="429.00" r="1.90" fill="#000"/>
<circle cx="578.90" cy="452.40" r="1.90" fill="#000"/>
<circle cx="584.40" cy="451.60" r="1.90" fill="#000"/>
<circle cx="589.70" cy="452.40" r="1.90" fill="#000"/>
<circle cx="594.00" cy="451.60" r="1.90" fill="#000"/>
<circle cx="581.40" cy="457.10" r="1.90" fill="#000"/>
<circle cx="587.70" cy="457.10" r="1.90" fill="#000"/>
<circle cx="578.90" cy="461.60" r="1.90" fill="#000"/>
<circle cx="584.40" cy="461.60" r="1.90" fill="#000"/>
<circle cx="589.70" cy="461.60" r="1.90" fill="#000"/>
<circle cx="584.40" cy="469.20" r="1.90" fill="#000"/>
<path d="M616.50,415.81 L621.10,415.81 L618.80,411.79 Z" fill="#b3121a"/>
<path d="M609.20,474.71 L613.80,474.71 L611.50,470.69 Z" fill="#b3121a"/>
<path d="M616.50,473.01 L621.10,473.01 L618.80,468.99 Z" fill="#b3121a"/>
<path d="M623.50,473.01 L628.10,473.01 L625.80,468.99 Z" fill="#b3121a"/>
<path d="M616.50,481.81 L621.10,481.81 L618.80,477.79 Z" fill="#b3121a"/>
<path d="M609.20,488.51 L613.80,488.51 L611.50,484.49 Z" fill="#b3121a"/>
<path d="M623.50,489.81 L628.10,489.81 L625.80,485.79 Z" fill="#b3121a"/>
<path d="M616.50,494.81 L621.10,494.81 L618.80,490.79 Z" fill="#b3121a"/>
<path d="M609.20,494.81 L613.80,494.81 L611.50,490.79 Z" fill="#b3121a"/>
<path d="M623.50,494.81 L628.10,494.81 L625.80,490.79 Z" fill="#b3121a"/>
<path d="M584.40,397.20 V393.90 H620.30 V397.20 M602.40,393.90 v-2" stroke="#4a4a4a" stroke-width="0.8" fill="none"/>
<text x="602.70" y="387.80" font-size="7.5" text-anchor="middle"><tspan font-style="italic">P</tspan> = 0.0141</text>
<text x="584.40" y="510.50" font-size="8.6" text-anchor="middle">WT</text>
<text x="618.80" y="510.50" font-size="8.6" text-anchor="middle">Δ exon 6</text>
<text x="525.40" y="430.30" font-size="9" text-anchor="middle" transform="rotate(-90 525.40 430.30)">Percentage phenotypic LT-HSC</text>
<text x="-0.70" y="567.70" font-size="13" font-weight="bold" fill="#000" stroke="#000" stroke-width="0.45">e</text>
<path d="M43.60,570.00 C41.90,569.95 40.60,571.12 39.50,572.00 C38.40,572.88 37.68,573.55 37.00,575.30 C36.32,577.05 35.40,580.12 35.40,582.50 C35.40,584.88 37.15,587.77 37.00,589.60 C36.85,591.43 35.10,592.13 34.50,593.50 C33.90,594.87 33.58,595.55 33.40,597.80 C33.22,600.05 33.10,604.72 33.40,607.00 C33.70,609.28 34.35,610.13 35.20,611.50 C36.05,612.87 36.75,614.17 38.50,615.20 C40.25,616.23 43.15,617.70 45.70,617.70 C48.25,617.70 51.42,616.82 53.80,615.20 C56.18,613.58 58.63,610.73 60.00,608.00 C61.37,605.27 61.92,601.87 62.00,598.80 C62.08,595.73 61.52,592.48 60.50,589.60 C59.48,586.72 57.70,584.38 55.90,581.50 C54.10,578.62 51.75,574.22 49.70,572.30 C47.65,570.38 45.30,570.05 43.60,570.00 Z" stroke="#e2e2e2" stroke-width="0.5" fill="#ececec"/>
<path d="M42,596 L44.6,598.5 L45.6,600.5 L43,599.6 Z" stroke="none" stroke-width="0" fill="#fdfdfd"/>
<ellipse cx="42.1" cy="585.4" rx="1.7" ry="1.15" fill="#f3f3f3" stroke="#dadada" stroke-width="0.4"/>
<path d="M36.97,589.84 C37.57,590.28 39.35,592.27 40.55,592.50 C41.74,592.72 43.10,591.64 44.12,591.17 C45.15,590.69 45.83,589.63 46.68,589.63 C47.53,589.63 48.81,590.91 49.23,591.17" stroke="#dedede" stroke-width="0.4" fill="none"/>
<path d="M45.66,593.72 C46.17,593.52 47.87,592.41 48.72,592.50 C49.57,592.58 50.60,593.52 50.77,594.23 C50.94,594.95 49.91,596.36 49.74,596.79" stroke="#dedede" stroke-width="0.4" fill="none"/>
<path d="M38.71,598.01 C38.37,599.17 36.36,602.53 36.66,604.96 C36.97,607.40 38.71,611.01 40.55,612.63 C42.39,614.24 45.23,615.10 47.70,614.67 C50.17,614.24 53.46,612.37 55.36,610.07 C57.27,607.77 58.51,602.41 59.14,600.87" stroke="#f5f5f5" stroke-width="0.7" fill="none"/>
<path d="M40.04,594.74 C40.55,594.83 42.16,595.42 43.10,595.25 C44.04,595.08 45.23,593.98 45.66,593.72" stroke="#dedede" stroke-width="0.4" fill="none"/>
<line x1="58.43" y1="602.41" x2="60.47" y2="601.90" stroke="#f7f7f7" stroke-width="0.5"/>
<line x1="58.12" y1="604.96" x2="60.17" y2="604.96" stroke="#f7f7f7" stroke-width="0.5"/>
<line x1="57.10" y1="607.52" x2="58.94" y2="608.03" stroke="#f7f7f7" stroke-width="0.5"/>
<line x1="55.36" y1="610.07" x2="56.90" y2="611.09" stroke="#f7f7f7" stroke-width="0.5"/>
<line x1="53.01" y1="611.91" x2="54.04" y2="613.34" stroke="#f7f7f7" stroke-width="0.5"/>
<line x1="50.25" y1="613.14" x2="50.77" y2="614.77" stroke="#f7f7f7" stroke-width="0.5"/>
<line x1="47.19" y1="613.85" x2="47.19" y2="615.39" stroke="#f7f7f7" stroke-width="0.5"/>
<line x1="44.12" y1="613.65" x2="43.61" y2="615.18" stroke="#f7f7f7" stroke-width="0.5"/>
<ellipse cx="39.90" cy="606.80" rx="1.40" ry="2.40" fill="#dcdcdc"/>
<path d="M47.2,597.8 L52.8,602.9 L47.2,608.2 L41.8,602.9 Z" stroke="#222" stroke-width="0.6" fill="#d9666a"/>
<text x="20.60" y="628.00" font-size="8.8" textLength="53.2" lengthAdjust="spacingAndGlyphs">E14 fetal liver</text>
<path d="M62,602.4 H107 M85.9,602.4 V572.7 H107" stroke="#111" stroke-width="0.9" fill="none"/>
<path d="M110.20,602.40 L105.90,600.38 L105.90,604.42 Z" fill="#111"/>
<path d="M110.20,572.70 L105.90,570.68 L105.90,574.72 Z" fill="#111"/>
<text x="133.20" y="575.80" font-size="9" text-anchor="middle">WT</text>
<text x="133.20" y="592.90" font-size="8.6" text-anchor="middle">150 LT-HSC (FL)</text>
<text x="133.20" y="605.50" font-size="9" text-anchor="middle">Δ exon 6</text>
<line x1="152.80" y1="572.70" x2="174.00" y2="572.70" stroke="#111" stroke-width="0.9"/>
<path d="M176.30,572.70 L172.00,570.68 L172.00,574.72 Z" fill="#111"/>
<line x1="152.80" y1="602.40" x2="174.00" y2="602.40" stroke="#111" stroke-width="0.9"/>
<path d="M176.30,602.40 L172.00,600.38 L172.00,604.42 Z" fill="#111"/>
<g transform="translate(0,0)">
<path d="M191.50,571.20 C191.85,570.55 192.52,568.28 193.60,567.30 C194.68,566.32 196.53,565.57 198.00,565.30 C199.47,565.03 200.93,565.37 202.40,565.70 C203.87,566.03 205.55,566.75 206.80,567.30 C208.05,567.85 209.38,568.72 209.90,569.00 L210.7,568.1 Q211.6,566.4 212.2,566.7 Q212.9,567.5 212.9,569.5 Q214.7,572.1 216,573.8 Q216.5,575.5 215.3,575.9 L212.9,576 Q211,576 209.9,576.6 L208.3,578 L205,577.3 Q203,576.5 201.5,576.5 L199.5,577.3 L197.4,578 L198.3,576.8 Q196,576.5 195.4,575.6 Q193.4,573.8 191.5,571.2 Z" stroke="#111" stroke-width="0.95" fill="#d6d6d6" stroke-linejoin="round"/>
<path d="M191.80,571.30 C191.08,571.10 188.80,570.27 187.50,570.10 C186.20,569.93 184.95,570.05 184.00,570.30 C183.05,570.55 182.23,571.02 181.80,571.60 C181.37,572.18 181.18,573.07 181.40,573.80 C181.62,574.53 182.40,575.32 183.10,576.00 C183.80,576.68 185.18,577.58 185.60,577.90" stroke="#111" stroke-width="1.15" fill="none" stroke-linecap="round"/>
<path d="M197.2,578 Q198.6,576.6 200.4,576.7 L200.6,577.5 Q199,578.3 197.2,578 Z" stroke="#111" stroke-width="0.5" fill="#111"/>
<path d="M206.4,579.6 Q207.2,577.4 209.2,577.3 L209.6,578.4 Q210.4,578.4 210.6,579.3 Q208.6,580.9 206.4,579.6 Z" stroke="#111" stroke-width="0.5" fill="#111"/>
<path d="M210,577.4 Q211.6,577.2 212.8,578.6 L211.4,578.5 Z" stroke="#111" stroke-width="0.5" fill="#111"/>
<circle cx="208.20" cy="578.70" r="0.55" fill="#d6d6d6"/>
</g>
<g transform="translate(0,29.8)">
<path d="M191.50,571.20 C191.85,570.55 192.52,568.28 193.60,567.30 C194.68,566.32 196.53,565.57 198.00,565.30 C199.47,565.03 200.93,565.37 202.40,565.70 C203.87,566.03 205.55,566.75 206.80,567.30 C208.05,567.85 209.38,568.72 209.90,569.00 L210.7,568.1 Q211.6,566.4 212.2,566.7 Q212.9,567.5 212.9,569.5 Q214.7,572.1 216,573.8 Q216.5,575.5 215.3,575.9 L212.9,576 Q211,576 209.9,576.6 L208.3,578 L205,577.3 Q203,576.5 201.5,576.5 L199.5,577.3 L197.4,578 L198.3,576.8 Q196,576.5 195.4,575.6 Q193.4,573.8 191.5,571.2 Z" stroke="#d0121b" stroke-width="0.95" fill="#fdeeee" stroke-linejoin="round"/>
<path d="M191.80,571.30 C191.08,571.10 188.80,570.27 187.50,570.10 C186.20,569.93 184.95,570.05 184.00,570.30 C183.05,570.55 182.23,571.02 181.80,571.60 C181.37,572.18 181.18,573.07 181.40,573.80 C181.62,574.53 182.40,575.32 183.10,576.00 C183.80,576.68 185.18,577.58 185.60,577.90" stroke="#d0121b" stroke-width="1.15" fill="none" stroke-linecap="round"/>
<path d="M197.2,578 Q198.6,576.6 200.4,576.7 L200.6,577.5 Q199,578.3 197.2,578 Z" stroke="#d0121b" stroke-width="0.5" fill="#d0121b"/>
<path d="M206.4,579.6 Q207.2,577.4 209.2,577.3 L209.6,578.4 Q210.4,578.4 210.6,579.3 Q208.6,580.9 206.4,579.6 Z" stroke="#d0121b" stroke-width="0.5" fill="#d0121b"/>
<path d="M210,577.4 Q211.6,577.2 212.8,578.6 L211.4,578.5 Z" stroke="#d0121b" stroke-width="0.5" fill="#d0121b"/>
<circle cx="208.20" cy="578.70" r="0.55" fill="#fdeeee"/>
</g>
<text x="229.00" y="566.30" font-size="9">Weeks after transplant</text>
<path d="M230.3,588.6 H317.7 M230.3,582.3 V594.8 M259.7,582.3 V594.8 M288.3,582.3 V594.8 M310.2,582.3 V594.8 M317.7,582.3 V594.8" stroke="#555" stroke-width="0.8" fill="none"/>
<text x="230.30" y="578.10" font-size="8.3" text-anchor="middle">0</text>
<text x="259.70" y="578.10" font-size="8.3" text-anchor="middle">4</text>
<text x="288.30" y="578.10" font-size="8.3" text-anchor="middle">8</text>
<text x="310.20" y="578.10" font-size="8.3" text-anchor="middle">11</text>
<text x="317.50" y="603.80" font-size="8.3" text-anchor="middle">12</text>
<path d="M259.7,599.9 V603.6 H309.4 V599.9 M284.3,603.6 V606" stroke="#666" stroke-width="0.8" fill="none"/>
<text x="283.60" y="615.00" font-size="8.4" text-anchor="middle">PBMC</text>
<text x="318.70" y="615.00" font-size="8.4" text-anchor="middle">BM</text>
<rect x="72.40" y="719.78" width="15.40" height="37.12" fill="#d4d4d4" stroke="#111" stroke-width="0.9"/>
<rect x="95.50" y="731.30" width="15.40" height="25.60" fill="#fde0e0" stroke="#111" stroke-width="0.9"/>
<rect x="135.70" y="699.66" width="15.40" height="57.24" fill="#d4d4d4" stroke="#111" stroke-width="0.9"/>
<rect x="159.30" y="721.24" width="15.40" height="35.66" fill="#fde0e0" stroke="#111" stroke-width="0.9"/>
<rect x="199.40" y="653.37" width="15.40" height="103.53" fill="#d4d4d4" stroke="#111" stroke-width="0.9"/>
<rect x="222.80" y="672.27" width="15.40" height="84.63" fill="#fde0e0" stroke="#111" stroke-width="0.9"/>
<text x="56.50" y="647.80" font-size="7.9" text-anchor="end">100</text>
<text x="56.50" y="670.16" font-size="7.9" text-anchor="end">80</text>
<text x="56.50" y="692.52" font-size="7.9" text-anchor="end">60</text>
<text x="56.50" y="714.88" font-size="7.9" text-anchor="end">40</text>
<text x="56.50" y="737.24" font-size="7.9" text-anchor="end">20</text>
<text x="56.50" y="759.60" font-size="7.9" text-anchor="end">0</text>
<path d="M63.80,645.10 V756.90 H246.70 M63.80,645.10 h-4.4 M63.80,667.46 h-4.4 M63.80,689.82 h-4.4 M63.80,712.18 h-4.4 M63.80,734.54 h-4.4 M63.80,756.90 h-4.4 M91.70,756.90 v4.0 M155.00,756.90 v4.0 M218.30,756.90 v4.0" stroke="#9b9b9b" stroke-width="0.9" fill="none"/>
<path d="M80.10,708.40 V730.00 M75.60,708.40 H84.60 M75.60,730.00 H84.60" stroke="#444" stroke-width="0.8" fill="none"/>
<path d="M103.20,722.50 V739.30 M98.70,722.50 H107.70 M98.70,739.30 H107.70" stroke="#6a2a2a" stroke-width="0.8" fill="none"/>
<path d="M143.40,689.10 V709.20 M138.90,689.10 H147.90 M138.90,709.20 H147.90" stroke="#444" stroke-width="0.8" fill="none"/>
<path d="M166.70,713.50 V728.50 M162.20,713.50 H171.20 M162.20,728.50 H171.20" stroke="#6a2a2a" stroke-width="0.8" fill="none"/>
<path d="M207.10,651.40 V655.20 M202.60,651.40 H211.60 M202.60,655.20 H211.60" stroke="#444" stroke-width="0.8" fill="none"/>
<path d="M230.50,666.50 V678.30 M226.00,666.50 H235.00 M226.00,678.30 H235.00" stroke="#6a2a2a" stroke-width="0.8" fill="none"/>
<ellipse cx="74.60" cy="707.40" rx="2.80" ry="1.90" fill="#000"/>
<ellipse cx="85.40" cy="706.40" rx="2.80" ry="1.90" fill="#000"/>
<ellipse cx="79.90" cy="712.50" rx="2.80" ry="1.90" fill="#000"/>
<ellipse cx="79.90" cy="752.20" rx="2.80" ry="1.90" fill="#000"/>
<ellipse cx="143.20" cy="682.10" rx="2.80" ry="1.90" fill="#000"/>
<ellipse cx="143.20" cy="698.60" rx="2.80" ry="1.90" fill="#000"/>
<ellipse cx="143.20" cy="718.00" rx="2.80" ry="1.90" fill="#000"/>
<ellipse cx="206.70" cy="648.90" rx="2.80" ry="1.90" fill="#000"/>
<ellipse cx="201.90" cy="656.90" rx="2.80" ry="1.90" fill="#000"/>
<ellipse cx="212.00" cy="654.40" rx="2.80" ry="1.90" fill="#000"/>
<path d="M100.70,703.49 L106.30,703.49 L103.50,699.51 Z" fill="#b3121a"/>
<path d="M100.70,728.29 L106.30,728.29 L103.50,724.31 Z" fill="#b3121a"/>
<path d="M100.70,739.39 L106.30,739.39 L103.50,735.41 Z" fill="#b3121a"/>
<path d="M95.70,746.89 L101.30,746.89 L98.50,742.91 Z" fill="#b3121a"/>
<path d="M105.70,745.39 L111.30,745.39 L108.50,741.41 Z" fill="#b3121a"/>
<path d="M164.30,701.39 L169.90,701.39 L167.10,697.41 Z" fill="#b3121a"/>
<path d="M164.30,727.29 L169.90,727.29 L167.10,723.31 Z" fill="#b3121a"/>
<path d="M164.30,730.29 L169.90,730.29 L167.10,726.31 Z" fill="#b3121a"/>
<path d="M164.30,734.39 L169.90,734.39 L167.10,730.41 Z" fill="#b3121a"/>
<path d="M227.50,665.79 L233.10,665.79 L230.30,661.81 Z" fill="#b3121a"/>
<path d="M227.50,671.29 L233.10,671.29 L230.30,667.31 Z" fill="#b3121a"/>
<path d="M227.50,687.09 L233.10,687.09 L230.30,683.11 Z" fill="#b3121a"/>
<path d="M79.90,692.90 V689.10 H103.50 V692.90 M91.70,689.10 v-3.3" stroke="#4a4a4a" stroke-width="0.8" fill="none"/>
<text x="91.70" y="683.20" font-size="7.5" text-anchor="middle">0.4225</text>
<path d="M142.00,675.30 V671.50 H166.60 V675.30 M154.30,671.50 v-3.3" stroke="#4a4a4a" stroke-width="0.8" fill="none"/>
<text x="154.30" y="664.80" font-size="7.5" text-anchor="middle">0.1387</text>
<path d="M206.00,643.90 V640.10 H230.80 V643.90 M218.30,640.10 v-3.3" stroke="#4a4a4a" stroke-width="0.8" fill="none"/>
<text x="218.30" y="633.20" font-size="7.5" text-anchor="middle">0.04844</text>
<text x="91.70" y="772.00" font-size="8.6" text-anchor="middle">Week 4</text>
<text x="155.00" y="772.00" font-size="8.6" text-anchor="middle">Week 8</text>
<text x="218.30" y="772.00" font-size="8.6" text-anchor="middle">Week 11</text>
<text x="27.60" y="701.70" font-size="9" text-anchor="middle" transform="rotate(-90 27.60 701.70)">Percentage</text>
<text x="38.20" y="701.70" font-size="9" text-anchor="middle" transform="rotate(-90 38.20 701.70)">donor derived cells in PB</text>
<circle cx="258.60" cy="709.00" r="2.30" fill="#070b18"/>
<path d="M256.5,718.2 L260.7,718.2 L258.6,714.4 Z" fill="#c0121a" stroke="#1a2040" stroke-width="0.5"/>
<text x="264.60" y="711.60" font-size="7.1">WT</text>
<text x="264.60" y="719.20" font-size="7.5">Δ exon 6</text>
<text x="371.50" y="531.00" font-size="13" font-weight="bold" fill="#000" stroke="#000" stroke-width="0.45">f</text>
<text x="441.30" y="534.80" font-size="8.8" text-anchor="middle">Total BM</text>
<rect x="419.10" y="576.28" width="12.80" height="50.72" fill="#d4d4d4" stroke="#111" stroke-width="0.9"/>
<rect x="450.60" y="589.34" width="12.40" height="37.66" fill="#fde0e0" stroke="#111" stroke-width="0.9"/>
<text x="406.90" y="546.00" font-size="7.9" text-anchor="end">100</text>
<text x="406.90" y="562.74" font-size="7.9" text-anchor="end">80</text>
<text x="406.90" y="579.48" font-size="7.9" text-anchor="end">60</text>
<text x="406.90" y="596.22" font-size="7.9" text-anchor="end">40</text>
<text x="406.90" y="612.96" font-size="7.9" text-anchor="end">20</text>
<text x="406.90" y="629.70" font-size="7.9" text-anchor="end">0</text>
<path d="M413.20,543.30 V627.00 H470.00 M413.20,543.30 h-3.5 M413.20,560.04 h-3.5 M413.20,576.78 h-3.5 M413.20,593.52 h-3.5 M413.20,610.26 h-3.5 M413.20,627.00 h-3.5 M425.50,627.00 v3.6 M456.80,627.00 v3.6" stroke="#9b9b9b" stroke-width="0.9" fill="none"/>
<path d="M425.60,569.10 V584.30 M421.60,569.10 H429.60 M421.60,584.30 H429.60" stroke="#555" stroke-width="0.8" fill="none"/>
<path d="M456.90,581.40 V598.30 M452.90,581.40 H460.90 M452.90,598.30 H460.90" stroke="#8a3030" stroke-width="0.8" fill="none"/>
<circle cx="425.60" cy="565.10" r="1.50" fill="#000"/>
<circle cx="425.60" cy="574.90" r="1.50" fill="#000"/>
<circle cx="425.60" cy="590.10" r="1.50" fill="#000"/>
<path d="M455.40,575.38 L458.40,575.38 L456.90,572.76 Z" fill="#c8141e"/>
<path d="M455.40,596.38 L458.40,596.38 L456.90,593.76 Z" fill="#c8141e"/>
<path d="M455.40,602.48 L458.40,602.48 L456.90,599.86 Z" fill="#c8141e"/>
<path d="M425.60,555.50 V552.20 H461.60 V555.50 M443.60,552.20 v-2.3" stroke="#4a4a4a" stroke-width="0.8" fill="none"/>
<text x="443.60" y="546.50" font-size="7.5" text-anchor="middle"><tspan font-style="italic">P</tspan> = 0.2995</text>
<text x="425.60" y="641.50" font-size="8.6" text-anchor="middle">WT</text>
<text x="456.40" y="641.50" font-size="8.6" text-anchor="middle">Δ exon 6</text>
<text x="379.50" y="585.40" font-size="9" text-anchor="middle" transform="rotate(-90 379.50 585.40)">Percentage</text>
<text x="388.90" y="585.40" font-size="9" text-anchor="middle" transform="rotate(-90 388.90 585.40)">donor derived cells</text>
<text x="547.30" y="534.80" font-size="8.8" text-anchor="middle">BM LIN<tspan dy="-2.92" font-size="6.19">–</tspan><tspan dy="2.92" font-size="8.6">&#8203;</tspan></text>
<rect x="526.40" y="582.36" width="12.00" height="44.64" fill="#d4d4d4" stroke="#111" stroke-width="0.9"/>
<rect x="557.20" y="589.47" width="12.00" height="37.53" fill="#fde0e0" stroke="#111" stroke-width="0.9"/>
<text x="512.80" y="546.00" font-size="7.9" text-anchor="end">60</text>
<text x="512.80" y="573.90" font-size="7.9" text-anchor="end">40</text>
<text x="512.80" y="601.80" font-size="7.9" text-anchor="end">20</text>
<text x="512.80" y="629.70" font-size="7.9" text-anchor="end">0</text>
<path d="M519.80,543.30 V627.00 H575.60 M519.80,543.30 h-3.5 M519.80,571.20 h-3.5 M519.80,599.10 h-3.5 M519.80,627.00 h-3.5 M532.40,627.00 v3.6 M563.20,627.00 v3.6" stroke="#9b9b9b" stroke-width="0.9" fill="none"/>
<path d="M532.40,576.90 V587.30 M528.40,576.90 H536.40 M528.40,587.30 H536.40" stroke="#555" stroke-width="0.8" fill="none"/>
<path d="M563.20,584.90 V593.30 M559.20,584.90 H567.20 M559.20,593.30 H567.20" stroke="#8a3030" stroke-width="0.8" fill="none"/>
<circle cx="532.40" cy="575.40" r="1.50" fill="#000"/>
<circle cx="532.40" cy="577.50" r="1.50" fill="#000"/>
<circle cx="532.40" cy="592.40" r="1.50" fill="#000"/>
<path d="M561.40,582.48 L564.40,582.48 L562.90,579.86 Z" fill="#c8141e"/>
<path d="M561.40,592.98 L564.40,592.98 L562.90,590.36 Z" fill="#c8141e"/>
<path d="M561.40,595.98 L564.40,595.98 L562.90,593.36 Z" fill="#c8141e"/>
<path d="M530.30,554.70 V551.40 H566.80 V554.70 M548.50,551.40 v-2.3" stroke="#4a4a4a" stroke-width="0.8" fill="none"/>
<text x="548.20" y="546.00" font-size="7.5" text-anchor="middle"><tspan font-style="italic">P</tspan> = 0.3538</text>
<text x="532.40" y="641.20" font-size="8.6" text-anchor="middle">WT</text>
<text x="562.90" y="641.20" font-size="8.6" text-anchor="middle">Δ exon 6</text>
<text x="488.00" y="585.40" font-size="9" text-anchor="middle" transform="rotate(-90 488.00 585.40)">Percentage</text>
<text x="498.60" y="585.40" font-size="9" text-anchor="middle" transform="rotate(-90 498.60 585.40)">donor derived cells</text>
<text x="653.00" y="534.80" font-size="8.8" text-anchor="middle">BM LSK</text>
<rect x="631.10" y="568.08" width="12.30" height="58.92" fill="#d4d4d4" stroke="#111" stroke-width="0.9"/>
<rect x="662.50" y="582.14" width="12.40" height="44.86" fill="#fde0e0" stroke="#111" stroke-width="0.9"/>
<text x="617.90" y="546.00" font-size="7.9" text-anchor="end">100</text>
<text x="617.90" y="562.74" font-size="7.9" text-anchor="end">80</text>
<text x="617.90" y="579.48" font-size="7.9" text-anchor="end">60</text>
<text x="617.90" y="596.22" font-size="7.9" text-anchor="end">40</text>
<text x="617.90" y="612.96" font-size="7.9" text-anchor="end">20</text>
<text x="617.90" y="629.70" font-size="7.9" text-anchor="end">0</text>
<path d="M624.30,543.30 V627.00 H681.00 M624.30,543.30 h-3.5 M624.30,560.04 h-3.5 M624.30,576.78 h-3.5 M624.30,593.52 h-3.5 M624.30,610.26 h-3.5 M624.30,627.00 h-3.5 M637.25,627.00 v3.6 M668.70,627.00 v3.6" stroke="#9b9b9b" stroke-width="0.9" fill="none"/>
<path d="M637.20,563.40 V573.30 M633.20,563.40 H641.20 M633.20,573.30 H641.20" stroke="#555" stroke-width="0.8" fill="none"/>
<path d="M668.60,579.90 V583.70 M664.60,579.90 H672.60 M664.60,583.70 H672.60" stroke="#8a3030" stroke-width="0.8" fill="none"/>
<circle cx="637.10" cy="560.40" r="1.50" fill="#000"/>
<circle cx="637.10" cy="569.40" r="1.50" fill="#000"/>
<circle cx="637.10" cy="576.30" r="1.50" fill="#000"/>
<path d="M666.70,579.58 L669.70,579.58 L668.20,576.96 Z" fill="#c8141e"/>
<path d="M666.70,583.38 L669.70,583.38 L668.20,580.76 Z" fill="#c8141e"/>
<path d="M666.70,586.18 L669.70,586.18 L668.20,583.56 Z" fill="#c8141e"/>
<path d="M637.10,554.70 V551.40 H672.40 V554.70 M654.70,551.40 v-2.3" stroke="#4a4a4a" stroke-width="0.8" fill="none"/>
<text x="655.10" y="546.00" font-size="7.5" text-anchor="middle"><tspan font-style="italic">P</tspan> = 0.0689</text>
<text x="637.10" y="641.20" font-size="8.6" text-anchor="middle">WT</text>
<text x="667.60" y="641.20" font-size="8.6" text-anchor="middle">Δ exon 6</text>
<text x="590.50" y="585.40" font-size="9" text-anchor="middle" transform="rotate(-90 590.50 585.40)">Percentage</text>
<text x="600.80" y="585.40" font-size="9" text-anchor="middle" transform="rotate(-90 600.80 585.40)">donor derived cells</text>
<text x="371.50" y="660.60" font-size="13" font-weight="bold" fill="#000" stroke="#000" stroke-width="0.45">g</text>
<text x="441.50" y="665.30" font-size="8.8" text-anchor="middle" textLength="55.8" lengthAdjust="spacingAndGlyphs">BM GR1/MAC1</text>
<rect x="419.50" y="689.36" width="12.90" height="73.14" fill="#d4d4d4" stroke="#111" stroke-width="0.9"/>
<rect x="450.60" y="689.36" width="12.40" height="73.14" fill="#fde0e0" stroke="#111" stroke-width="0.9"/>
<text x="409.80" y="681.80" font-size="7.9" text-anchor="end">100</text>
<text x="409.80" y="698.48" font-size="7.9" text-anchor="end">80</text>
<text x="409.80" y="715.16" font-size="7.9" text-anchor="end">60</text>
<text x="409.80" y="731.84" font-size="7.9" text-anchor="end">40</text>
<text x="409.80" y="748.52" font-size="7.9" text-anchor="end">20</text>
<text x="409.80" y="765.20" font-size="7.9" text-anchor="end">0</text>
<path d="M413.60,679.10 V762.50 H470.00 M413.60,679.10 h-3.5 M413.60,695.78 h-3.5 M413.60,712.46 h-3.5 M413.60,729.14 h-3.5 M413.60,745.82 h-3.5 M413.60,762.50 h-3.5 M425.95,762.50 v3.6 M456.80,762.50 v3.6" stroke="#9b9b9b" stroke-width="0.9" fill="none"/>
<ellipse cx="422.90" cy="689.00" rx="1.70" ry="1.35" fill="#000"/>
<ellipse cx="426.60" cy="689.00" rx="1.70" ry="1.35" fill="#000"/>
<ellipse cx="430.50" cy="689.00" rx="1.70" ry="1.35" fill="#000"/>
<path d="M452.50,691.58 L455.50,691.58 L454.00,688.96 Z" fill="#c8141e"/>
<path d="M455.30,689.18 L458.30,689.18 L456.80,686.56 Z" fill="#c8141e"/>
<path d="M458.10,691.58 L461.10,691.58 L459.60,688.96 Z" fill="#c8141e"/>
<path d="M422.60,685.30 V682.00 H458.30 V685.30 M440.60,682.00 v-2.3" stroke="#4a4a4a" stroke-width="0.8" fill="none"/>
<text x="440.60" y="677.00" font-size="7.5" text-anchor="middle"><tspan font-style="italic">P</tspan> = 0.6568</text>
<text x="425.60" y="777.00" font-size="8.6" text-anchor="middle">WT</text>
<text x="456.40" y="777.00" font-size="8.6" text-anchor="middle">Δ exon 6</text>
<text x="379.50" y="720.60" font-size="9" text-anchor="middle" transform="rotate(-90 379.50 720.60)">Percentage</text>
<text x="388.90" y="720.60" font-size="9" text-anchor="middle" transform="rotate(-90 388.90 720.60)">myeloid within CD45.2</text>
<text x="547.90" y="664.20" font-size="8.8" text-anchor="middle">BM CD19</text>
<rect x="526.40" y="746.51" width="12.00" height="15.99" fill="#d4d4d4" stroke="#111" stroke-width="0.9"/>
<rect x="557.20" y="745.96" width="12.00" height="16.54" fill="#fde0e0" stroke="#111" stroke-width="0.9"/>
<text x="512.80" y="681.80" font-size="7.9" text-anchor="end">60</text>
<text x="512.80" y="709.60" font-size="7.9" text-anchor="end">40</text>
<text x="512.80" y="737.40" font-size="7.9" text-anchor="end">20</text>
<text x="512.80" y="765.20" font-size="7.9" text-anchor="end">0</text>
<path d="M519.80,679.10 V762.50 H575.60 M519.80,679.10 h-3.5 M519.80,706.90 h-3.5 M519.80,734.70 h-3.5 M519.80,762.50 h-3.5 M532.40,762.50 v3.6 M563.20,762.50 v3.6" stroke="#9b9b9b" stroke-width="0.9" fill="none"/>
<path d="M532.40,744.90 V747.90 M528.40,744.90 H536.40 M528.40,747.90 H536.40" stroke="#555" stroke-width="0.8" fill="none"/>
<path d="M563.20,741.30 V750.20 M559.20,741.30 H567.20 M559.20,750.20 H567.20" stroke="#8a3030" stroke-width="0.8" fill="none"/>
<ellipse cx="528.80" cy="746.40" rx="1.70" ry="1.35" fill="#000"/>
<ellipse cx="532.40" cy="744.30" rx="1.70" ry="1.35" fill="#000"/>
<ellipse cx="536.00" cy="746.40" rx="1.70" ry="1.35" fill="#000"/>
<path d="M561.40,741.88 L564.40,741.88 L562.90,739.26 Z" fill="#c8141e"/>
<path d="M561.40,748.48 L564.40,748.48 L562.90,745.86 Z" fill="#c8141e"/>
<path d="M561.40,753.48 L564.40,753.48 L562.90,750.86 Z" fill="#c8141e"/>
<path d="M533.30,688.60 V685.30 H569.20 V688.60 M551.40,685.30 v-2.3" stroke="#4a4a4a" stroke-width="0.8" fill="none"/>
<text x="551.80" y="678.70" font-size="7.5" text-anchor="middle"><tspan font-style="italic">P</tspan> = 0.9080</text>
<text x="532.40" y="777.00" font-size="8.6" text-anchor="middle">WT</text>
<text x="562.90" y="777.00" font-size="8.6" text-anchor="middle">Δ exon 6</text>
<text x="488.00" y="720.60" font-size="9" text-anchor="middle" transform="rotate(-90 488.00 720.60)">Percentage</text>
<text x="498.60" y="720.60" font-size="9" text-anchor="middle" transform="rotate(-90 498.60 720.60)">CD19 within CD45.2</text>
<text x="652.70" y="664.20" font-size="8.8" text-anchor="middle">BM CD3</text>
<rect x="631.10" y="752.49" width="12.50" height="10.01" fill="#d4d4d4" stroke="#111" stroke-width="0.9"/>
<rect x="662.10" y="751.38" width="12.60" height="11.12" fill="#fde0e0" stroke="#111" stroke-width="0.9"/>
<text x="617.70" y="681.80" font-size="7.9" text-anchor="end">30</text>
<text x="617.70" y="709.60" font-size="7.9" text-anchor="end">20</text>
<text x="617.70" y="737.40" font-size="7.9" text-anchor="end">10</text>
<text x="617.70" y="765.20" font-size="7.9" text-anchor="end">0</text>
<path d="M624.50,679.10 V762.50 H682.00 M624.50,679.10 h-3.5 M624.50,706.90 h-3.5 M624.50,734.70 h-3.5 M624.50,762.50 h-3.5 M637.35,762.50 v3.6 M668.40,762.50 v3.6" stroke="#9b9b9b" stroke-width="0.9" fill="none"/>
<path d="M668.30,748.80 V753.80 M664.30,748.80 H672.30 M664.30,753.80 H672.30" stroke="#8a3030" stroke-width="0.8" fill="none"/>
<ellipse cx="633.50" cy="752.30" rx="1.70" ry="1.35" fill="#000"/>
<ellipse cx="637.10" cy="750.80" rx="1.70" ry="1.35" fill="#000"/>
<ellipse cx="640.70" cy="752.30" rx="1.70" ry="1.35" fill="#000"/>
<path d="M666.70,747.98 L669.70,747.98 L668.20,745.36 Z" fill="#c8141e"/>
<path d="M666.70,752.88 L669.70,752.88 L668.20,750.26 Z" fill="#c8141e"/>
<path d="M666.70,755.78 L669.70,755.78 L668.20,753.16 Z" fill="#c8141e"/>
<path d="M633.50,688.60 V685.30 H669.10 V688.60 M651.40,685.30 v-2.3" stroke="#4a4a4a" stroke-width="0.8" fill="none"/>
<text x="652.10" y="678.70" font-size="7.5" text-anchor="middle"><tspan font-style="italic">P</tspan> = 0.6358</text>
<text x="637.10" y="777.00" font-size="8.6" text-anchor="middle">WT</text>
<text x="667.60" y="777.00" font-size="8.6" text-anchor="middle">Δ exon 6</text>
<text x="593.30" y="720.60" font-size="9" text-anchor="middle" transform="rotate(-90 593.30 720.60)">Percentage</text>
<text x="604.10" y="720.60" font-size="9" text-anchor="middle" transform="rotate(-90 604.10 720.60)">CD3 within CD45.2</text>
</svg>
</body></html>
